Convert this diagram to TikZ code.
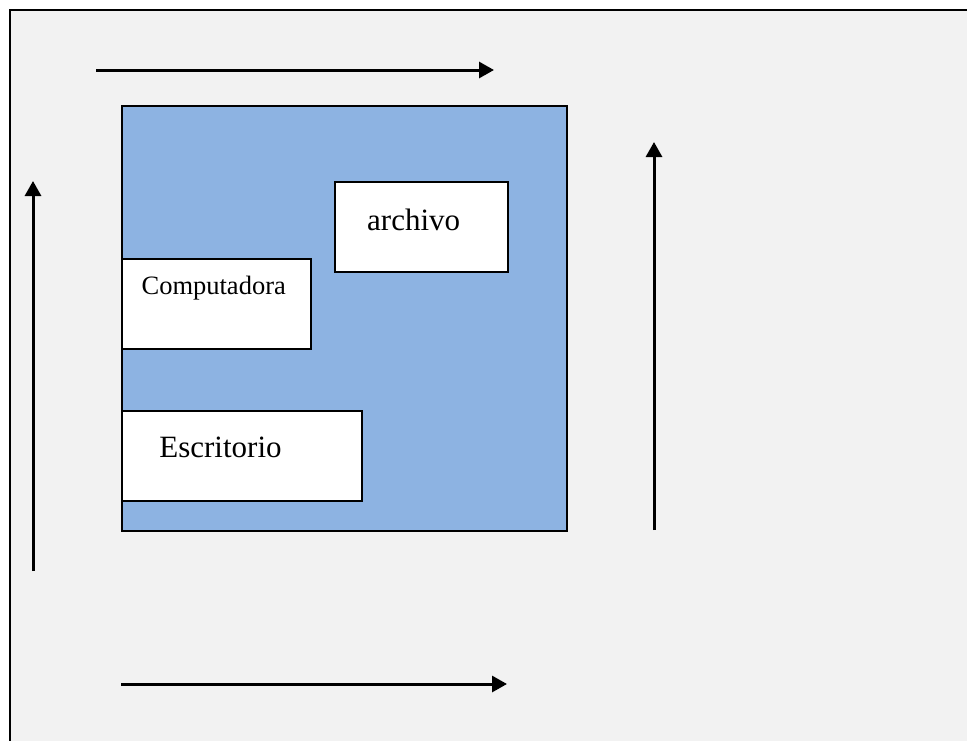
\documentclass[tikz,border=0pt]{standalone}
\usepackage{fontspec}
\setmainfont{Liberation Serif}
\usetikzlibrary{arrows.meta}
\definecolor{pagegray}{HTML}{F2F2F2}
\definecolor{boxblue}{HTML}{8DB3E2}
\tikzset{
  whitebox/.style={draw=black, line width=2pt, fill=white, rectangle, inner sep=0pt, anchor=north west},
  bigtext/.style={anchor=base, inner sep=0pt, font=\fontsize{31}{36}\selectfont},
  smalltext/.style={anchor=base, inner sep=0pt, font=\fontsize{26.5}{31}\selectfont},
  flow/.style={line width=3pt, -{Triangle[length=15pt,width=16pt]}}
}
\begin{document}
\begin{tikzpicture}[x=1pt,y=-1pt]
\useasboundingbox (0,0) rectangle (967,740);
\clip (0,0) rectangle (967,740);
\fill[white] (0,0) rectangle (967,740);
\draw[line width=2pt, fill=pagegray] (10,10) rectangle (980,760);
% blue area
\node[draw=black, line width=2pt, fill=boxblue, rectangle, inner sep=0pt, anchor=north west,
      minimum width=445pt, minimum height=425pt] (area) at (121,105) {};
% boxes
\node[whitebox, minimum width=189pt, minimum height=90pt] (comp) at (121,258) {};
\node[whitebox, minimum width=173pt, minimum height=90pt] (arch) at (334,181) {};
\node[whitebox, minimum width=240pt, minimum height=90pt] (escr) at (121,410) {};
% labels
\node[smalltext] (compt) at (213.7,294) {Computadora};
\node[bigtext] (archt) at (413.7,230) {archivo};
\node[bigtext] (escrt) at (220.5,457) {Escritorio};
% arrows
\coordinate (t1) at (96,70);   \coordinate (t2) at (494,70);
\coordinate (b1) at (121,684); \coordinate (b2) at (507,684);
\coordinate (l1) at (33,571);  \coordinate (l2) at (33,181);
\coordinate (r1) at (654,530); \coordinate (r2) at (654,142);
\draw[flow] (t1) -- (t2);
\draw[flow] (b1) -- (b2);
\draw[flow] (l1) -- (l2);
\draw[flow] (r1) -- (r2);
\end{tikzpicture}
\end{document}
